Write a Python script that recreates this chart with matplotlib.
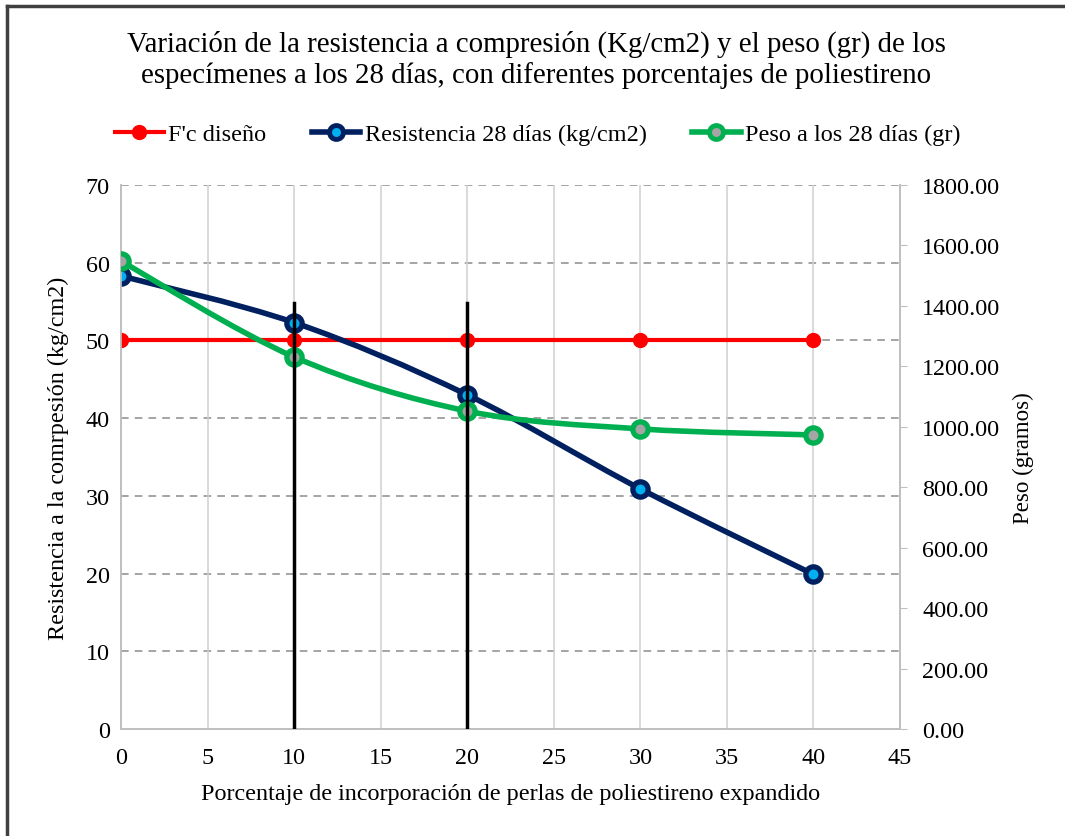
import matplotlib
matplotlib.use("Agg")
import matplotlib.pyplot as plt
from matplotlib.path import Path
from matplotlib.patches import PathPatch
from matplotlib.lines import Line2D
import numpy as np

plt.rcParams['font.family'] = ['Liberation Serif', 'DejaVu Serif']

# ---- data ----
porcentaje = [0, 10, 20, 30, 40]
fc_diseno = [50, 50, 50, 50, 50]
resistencia = [58.3, 52.3, 43.0, 30.9, 19.9]
peso = [1548, 1231, 1052, 993, 973]
barras_x = [10, 20]
barras_top = [54.8, 54.8]

title = ("Variación de la resistencia a compresión (Kg/cm2) y el peso (gr) de los\n"
         "especímenes a los 28 días, con diferentes porcentajes de poliestireno")
xlabel = "Porcentaje de incorporación de perlas de poliestireno expandido"
ylabel_left = "Resistencia a la comrpesión (kg/cm2)"
ylabel_right = "Peso (gramos)"
labels = ["F'c diseño", "Resistencia 28 días (kg/cm2)", "Peso a los 28 días (gr)"]
xticks = [0, 5, 10, 15, 20, 25, 30, 35, 40, 45]
yticks_left = [0, 10, 20, 30, 40, 50, 60, 70]
yticks_right = [0, 200, 400, 600, 800, 1000, 1200, 1400, 1600, 1800]

RED = '#FF0000'
NAVY = '#002060'
GREEN = '#00B050'
FS_TICK = 17.4
FS_LAB = 17.4


def smooth_path(x, y):
    x = np.asarray(x, float)
    y = np.asarray(y, float)
    pts = np.column_stack([x, y])
    n = len(pts)
    verts = [pts[0]]
    codes = [Path.MOVETO]
    for i in range(n - 1):
        p0 = pts[i - 1] if i > 0 else pts[i]
        p1 = pts[i]
        p2 = pts[i + 1]
        p3 = pts[i + 2] if i + 2 < n else pts[i + 1]
        c1 = p1 + (p2 - p0) / 6.0
        c2 = p2 - (p3 - p1) / 6.0
        verts += [c1, c2, p2]
        codes += [Path.CURVE4] * 3
    return Path(verts, codes)


fig = plt.figure(figsize=(10.65, 8.37), dpi=100)
ax = fig.add_axes([121 / 1065, 1 - 730 / 837, (900 - 121) / 1065, (730 - 186) / 837])
ax2 = ax.twinx()

ax.set_xlim(0, 45)
ax.set_ylim(0, 70)
ax2.set_ylim(0, 1800)

# grid
for yv in yticks_left[1:]:
    ax.axhline(yv, color='#8C8C8C', lw=1.1, ls=(0, (5, 4)), zorder=1)
for xv in xticks[1:-1]:
    ax.axvline(xv, color='#D0D0D0', lw=1.1, zorder=1)

for a in (ax, ax2):
    a.spines['top'].set_visible(False)
    for s in ('left', 'right', 'bottom'):
        a.spines[s].set_color('#BFBFBF')
        a.spines[s].set_linewidth(1.2)

ax.set_xticks(xticks)
ax.set_yticks(yticks_left)
ax.tick_params(axis='both', length=0, labelsize=FS_TICK)
ax.tick_params(axis='y', pad=8)
ax.tick_params(axis='x', pad=13)
ax2.set_yticks(yticks_right)
ax2.set_yticklabels([f"{v:.2f}" for v in yticks_right])
ax2.tick_params(axis='y', length=5, color='#BFBFBF', labelsize=FS_TICK, pad=11)

ax.set_xlabel(xlabel, fontsize=FS_LAB, labelpad=11)
ax.set_ylabel(ylabel_left, fontsize=FS_LAB, labelpad=12)
ax2.set_ylabel(ylabel_right, fontsize=16.5, labelpad=9)

# series
ax.plot(porcentaje, fc_diseno, color=RED, lw=3, marker='o', ms=10,
        mfc=RED, mec=RED, zorder=3)

ax.add_patch(PathPatch(smooth_path(porcentaje, resistencia), fill=False,
                       ec=NAVY, lw=4, zorder=4))
ax.plot(porcentaje, resistencia, ls='none', marker='o', ms=11, mfc='#00B0F0',
        mec=NAVY, mew=3.8, zorder=5)

ax2.add_patch(PathPatch(smooth_path(porcentaje, peso), fill=False,
                        ec=GREEN, lw=4, zorder=4))
ax2.plot(porcentaje, peso, ls='none', marker='o', ms=11, mfc='#A5A5A5',
         mec=GREEN, mew=3.8, zorder=5)

# vertical black bars (drawn on twin axis to be on top)
for bx, bt in zip(barras_x, barras_top):
    ax2.plot([bx, bx], [0, bt * 1800 / 70], color='black', lw=2.5, zorder=10)

ax.set_zorder(ax2.get_zorder() - 1)
ax2.patch.set_visible(False)

# legend
handles = [
    Line2D([], [], color=RED, lw=3, marker='o', ms=10, mfc=RED, mec=RED),
    Line2D([], [], color=NAVY, lw=4, marker='o', ms=10, mfc='#00B0F0', mec=NAVY, mew=3.5),
    Line2D([], [], color=GREEN, lw=4, marker='o', ms=10, mfc='#A5A5A5', mec=GREEN, mew=3.5),
]
fig.legend(handles, labels, loc='center', bbox_to_anchor=(538 / 1065, 1 - 135 / 837),
           ncol=3, frameon=False, fontsize=17.5, handlelength=2.0, handletextpad=0.2,
           columnspacing=1.85, borderpad=0, borderaxespad=0)

fig.text(536 / 1065, 1 - 60 / 837, title, ha='center', va='center', fontsize=20.8,
         linespacing=1.22)

# outer border (top and left visible)
fig.add_artist(Line2D([7 / 1065, 7 / 1065], [0, 1 - 7 / 837], color='#404040', lw=2.5,
                      transform=fig.transFigure))
fig.add_artist(Line2D([7 / 1065, 1], [1 - 7 / 837, 1 - 7 / 837], color='#404040', lw=2.5,
                      transform=fig.transFigure))

fig.savefig('out.png', dpi=100)
